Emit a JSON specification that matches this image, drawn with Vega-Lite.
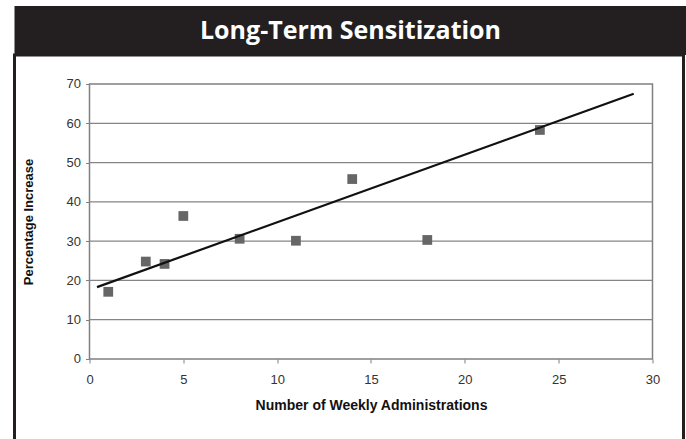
{
  "$schema": "https://vega.github.io/schema/vega-lite/v6.json",
  "background": "white",
  "padding": {"left": 12.5, "top": 6, "right": 0, "bottom": -3},
  "spacing": 0,
  "bounds": "flush",
  "datasets": {
    "points": [
      {"weeks": 1, "pct": 17.1},
      {"weeks": 3, "pct": 24.8},
      {"weeks": 4, "pct": 24.2},
      {"weeks": 5, "pct": 36.4},
      {"weeks": 8, "pct": 30.6},
      {"weeks": 11, "pct": 30.1},
      {"weeks": 14, "pct": 45.8},
      {"weeks": 18, "pct": 30.3},
      {"weeks": 24, "pct": 58.3}
    ],
    "trend": [
      {"weeks": 0.4, "pct": 18.3},
      {"weeks": 29, "pct": 67.5}
    ],
    "grid": [
      {"pct": 10}, {"pct": 20}, {"pct": 30}, {"pct": 40}, {"pct": 50}, {"pct": 60}
    ]
  },
  "vconcat": [
    {
      "width": 672,
      "height": 49,
      "view": {"fill": "#231f20", "stroke": null},
      "data": {"values": [{"label": "Long-Term Sensitization"}]},
      "mark": {"type": "text", "font": "Open Sans", "fontWeight": "bold", "fontSize": 25, "color": "white", "align": "center", "baseline": "middle"},
      "encoding": {"text": {"field": "label", "type": "nominal"}}
    },
    {
      "width": 669,
      "height": 385.5,
      "view": {"fill": null, "stroke": "#231f20", "strokeWidth": 3},
      "resolve": {"axis": {"x": "independent", "y": "independent"}},
      "layer": [
        {
          "data": {"values": [{"part": "plot area"}]},
          "mark": {"type": "rect", "fillOpacity": 0, "stroke": "#808080", "strokeWidth": 1.5},
          "encoding": {
            "x": {"datum": 0, "type": "quantitative", "scale": {"domain": [-3.996, 31.652], "nice": false, "zero": false}, "axis": null},
            "x2": {"datum": 30},
            "y": {"datum": 0, "type": "quantitative", "scale": {"domain": [-20.75, 77.38], "nice": false, "zero": false}, "axis": null},
            "y2": {"datum": 70}
          }
        },
        {
          "data": {"name": "grid"},
          "mark": {"type": "rule", "color": "#858585", "strokeWidth": 1.3},
          "encoding": {
            "x": {"datum": 0, "type": "quantitative", "scale": {"domain": [-3.996, 31.652], "nice": false, "zero": false}, "axis": null},
            "x2": {"datum": 30},
            "y": {"field": "pct", "type": "quantitative", "scale": {"domain": [-20.75, 77.38], "nice": false, "zero": false}, "axis": null}
          }
        },
        {
          "data": {"name": "points"},
          "mark": {"type": "point", "shape": "square", "filled": true, "color": "#666666", "opacity": 1, "size": 95},
          "encoding": {
            "x": {"field": "weeks", "type": "quantitative",
              "scale": {"domain": [-3.996, 31.652], "nice": false, "zero": false},
              "axis": {"zindex": 1, "title": "Number of Weekly Administrations", "values": [0, 5, 10, 15, 20, 25, 30], "offset": -81.5, "domain": false, "grid": false, "tickSize": 4, "tickColor": "#808080", "tickWidth": 1, "labelFont": "Liberation Sans", "labelFontSize": 13, "labelColor": "#333333", "labelPadding": 10, "labelFlush": false, "labelOverlap": false, "titleFont": "Liberation Sans", "titleFontSize": 14, "titleFontWeight": "bold", "titleColor": "#111111", "titleX": 356.5, "titleY": 39, "titleBaseline": "top", "titleAlign": "center"}
            },
            "y": {"field": "pct", "type": "quantitative",
              "scale": {"domain": [-20.75, 77.38], "nice": false, "zero": false},
              "axis": {"zindex": 1, "title": "Percentage Increase", "values": [0, 10, 20, 30, 40, 50, 60, 70], "offset": -75, "domain": false, "grid": false, "tickSize": 4, "tickColor": "#808080", "tickWidth": 1, "labelFont": "Liberation Sans", "labelFontSize": 13, "labelColor": "#333333", "labelPadding": 5, "labelOverlap": false, "titleFont": "Liberation Sans", "titleFontSize": 13, "titleFontWeight": "bold", "titleColor": "#111111", "titleX": -61, "titleY": 166.5, "titleAngle": 270, "titleBaseline": "middle", "titleAlign": "center"}
            }
          }
        },
        {
          "data": {"name": "trend"},
          "mark": {"type": "line", "color": "#111111", "strokeWidth": 2.2},
          "encoding": {
            "x": {"field": "weeks", "type": "quantitative", "scale": {"domain": [-3.996, 31.652], "nice": false, "zero": false}, "axis": null},
            "y": {"field": "pct", "type": "quantitative", "scale": {"domain": [-20.75, 77.38], "nice": false, "zero": false}, "axis": null}
          }
        }
      ]
    }
  ]
}
